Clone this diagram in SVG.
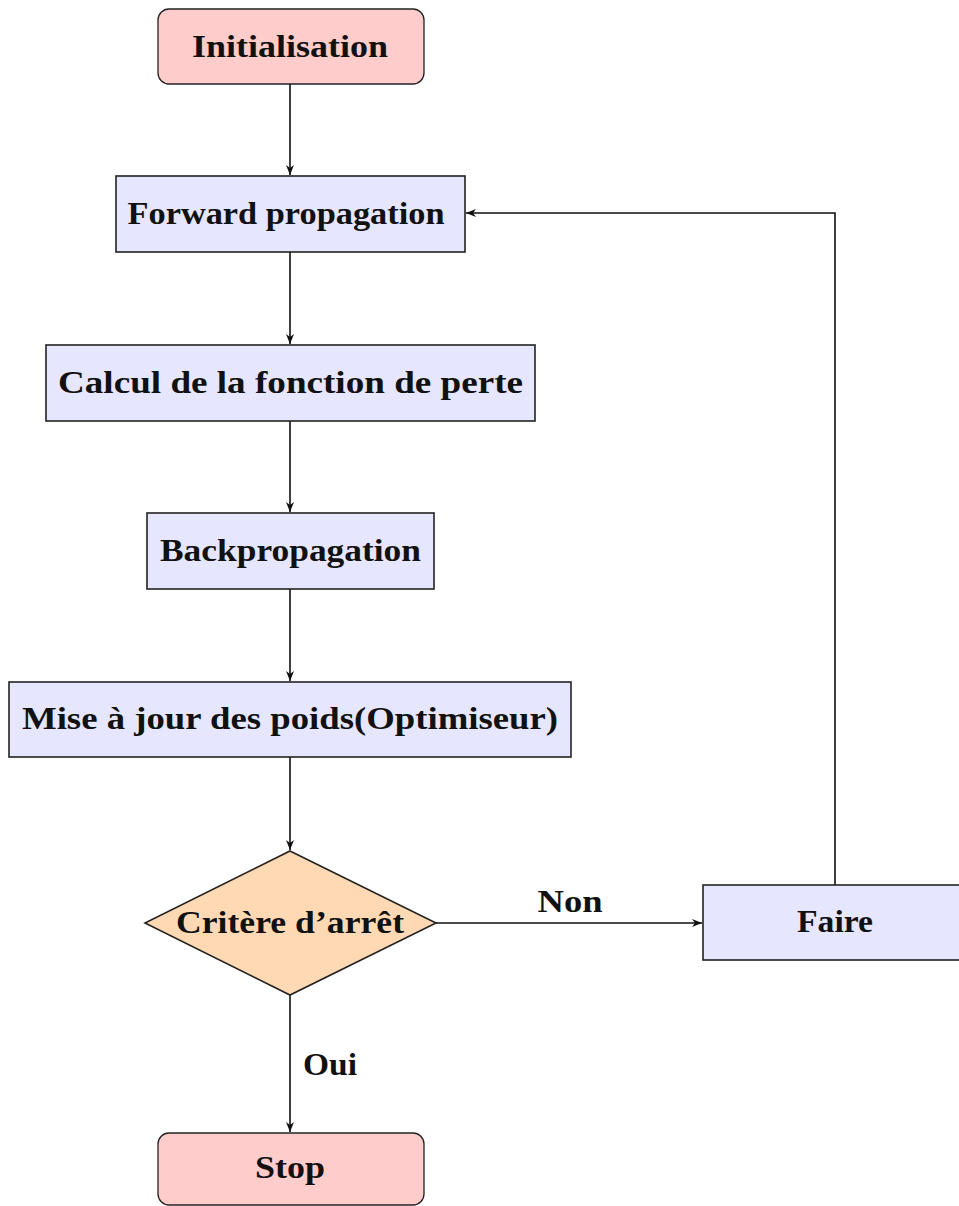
<svg xmlns="http://www.w3.org/2000/svg" width="959" height="1206" viewBox="0 0 959 1206">
<style>
.box{fill:#e6e6ff;stroke:#222;stroke-width:1.6}
.term{fill:#ffcccc;stroke:#222;stroke-width:1.3}
.dec{fill:#ffd9b3;stroke:#222;stroke-width:1.6}
text{font-family:"Liberation Serif","DejaVu Serif",serif;font-weight:bold;font-size:32px;fill:#111;text-anchor:middle}
.edge{fill:none;stroke:#111;stroke-width:1.6}
</style>
<defs>
<marker id="arr" viewBox="0 0 10 8" refX="10" refY="4" markerWidth="10" markerHeight="8" markerUnits="userSpaceOnUse" orient="auto">
<path d="M0,0 L10,4 L0,8 L3,4 Z" fill="#111"/>
</marker>
</defs>
<g id="connectors">
<line class="edge" x1="290" y1="84" x2="290" y2="175" marker-end="url(#arr)"/>
<line class="edge" x1="290" y1="252" x2="290" y2="344" marker-end="url(#arr)"/>
<line class="edge" x1="290" y1="421" x2="290" y2="512" marker-end="url(#arr)"/>
<line class="edge" x1="290" y1="589" x2="290" y2="681" marker-end="url(#arr)"/>
<line class="edge" x1="290" y1="757" x2="290" y2="850" marker-end="url(#arr)"/>
<line class="edge" x1="436" y1="923" x2="702" y2="923" marker-end="url(#arr)"/>
<line class="edge" x1="290" y1="995" x2="290" y2="1132" marker-end="url(#arr)"/>
<polyline class="edge" points="835,885 835,213 466,213" marker-end="url(#arr)"/>
<text x="570" y="912" textLength="65" lengthAdjust="spacingAndGlyphs">Non</text>
<text x="330" y="1075" textLength="54" lengthAdjust="spacingAndGlyphs">Oui</text>
</g>
<g id="init">
<rect class="term" x="158" y="9" width="266" height="75" rx="11"/>
<text x="290" y="57" textLength="196" lengthAdjust="spacingAndGlyphs">Initialisation</text>
</g>
<g id="forward">
<rect class="box" x="116" y="176" width="349" height="76"/>
<text x="286" y="224" textLength="317" lengthAdjust="spacingAndGlyphs">Forward propagation</text>
</g>
<g id="loss">
<rect class="box" x="46" y="345" width="489" height="76"/>
<text x="290.5" y="393" textLength="465" lengthAdjust="spacingAndGlyphs">Calcul de la fonction de perte</text>
</g>
<g id="backprop">
<rect class="box" x="147" y="513" width="287" height="76"/>
<text x="290.5" y="561" textLength="261" lengthAdjust="spacingAndGlyphs">Backpropagation</text>
</g>
<g id="update">
<rect class="box" x="9" y="682" width="562" height="75"/>
<text x="290" y="729" textLength="536" lengthAdjust="spacingAndGlyphs">Mise à jour des poids(Optimiseur)</text>
</g>
<g id="criterion">
<polygon class="dec" points="290,851 436,923 290,995 145,923"/>
<text x="290" y="933" textLength="228" lengthAdjust="spacingAndGlyphs">Critère d’arrêt</text>
</g>
<g id="faire">
<rect class="box" x="703" y="885" width="265" height="75"/>
<text x="835" y="932" textLength="76" lengthAdjust="spacingAndGlyphs">Faire</text>
</g>
<g id="stop">
<rect class="term" x="158" y="1133" width="266" height="72" rx="11"/>
<text x="290" y="1178" textLength="70" lengthAdjust="spacingAndGlyphs">Stop</text>
</g>
</svg>
